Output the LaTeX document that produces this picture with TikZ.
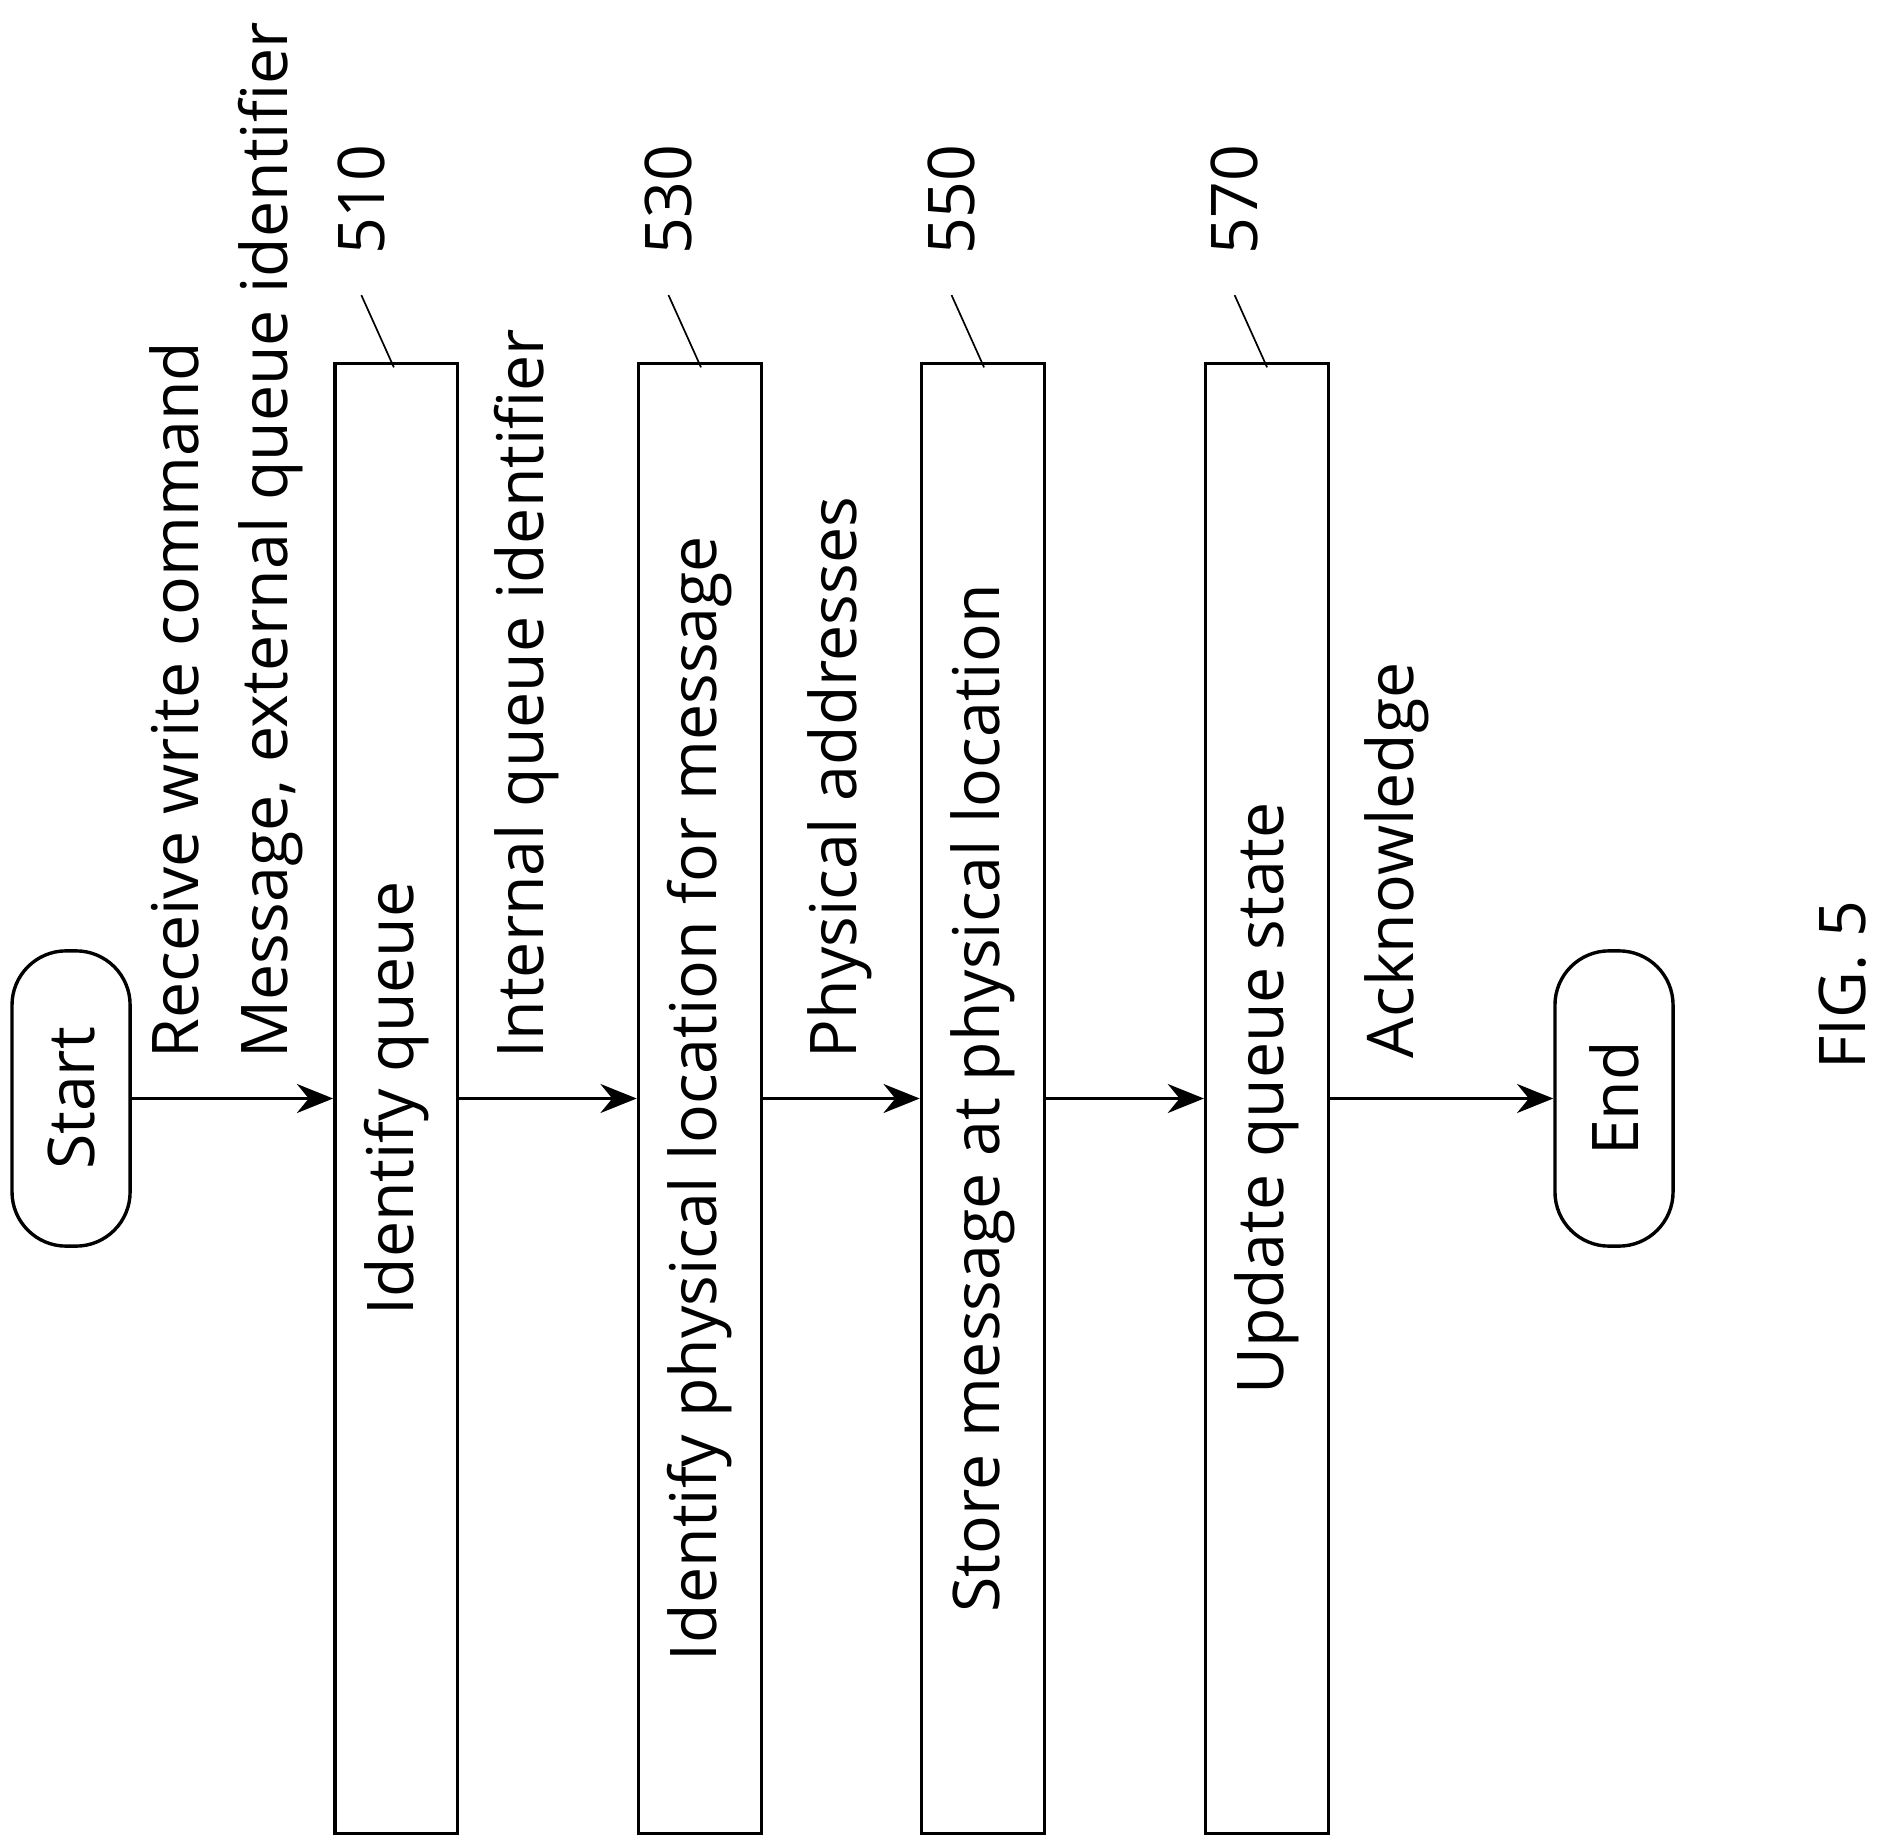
\documentclass[tikz,border=0pt]{standalone}
\usepackage{fontspec}
\setmainfont{Open Sans}
\usetikzlibrary{positioning, arrows.meta}

\begin{document}
\begin{tikzpicture}[x=0.01cm, y=-0.01cm, thick, font=\fontsize{15.2}{18}\selectfont,
    process/.style = {draw, rotate=90, minimum width=12.2cm, minimum height=1.02cm, inner sep=0pt},
    term/.style = {draw, rotate=90, rounded corners=0.45cm, minimum width=2.45cm, minimum height=0.98cm, inner sep=0pt},
    lbl/.style = {rotate=90, anchor=west, inner sep=0pt},
    flow/.style = {-{Stealth[length=3mm, width=2.4mm]}}]
    \useasboundingbox (0,0) rectangle (1560,1533);
    % Nodes
    \node[term] (start) at (59,912) {Start};
    \node[process] (s510) at (329,912) {Identify queue};
    \node[process] (s530) at (581,912) {Identify physical location for message};
    \node[process] (s550) at (816,912) {Store message at physical location};
    \node[process] (s570) at (1052,912) {Update queue state};
    \node[term] (end) at (1340,912) {End};
    
    % Labels
    \node[lbl] (l1) at (145,880) {Receive write command};
    \node[lbl] (l2) at (225,880) {Message, external queue identifier};
    \node[lbl] (l3) at (437,880) {Internal queue identifier};
    \node[lbl] (l4) at (697,880) {Physical addresses};
    \node[lbl] (l5) at (1160,880) {Acknowledge};
    \node[rotate=90] (fig) at (1530,818) {FIG. 5};
    
    % Reference numbers
    \foreach \n/\x in {510/300, 530/555, 550/790, 570/1025}{
        \node[lbl] (r\n) at (\x,213) {\n};
        \coordinate (c\n) at (\x+27,305);
        \draw[thin] (\x,245) -- (c\n);
    }
    
    % Lines
    \draw[flow] (start) -- (s510);
    \draw[flow] (s510) -- (s530);
    \draw[flow] (s530) -- (s550);
    \draw[flow] (s550) -- (s570);
    \draw[flow] (s570) -- (end);
\end{tikzpicture}
\end{document}
